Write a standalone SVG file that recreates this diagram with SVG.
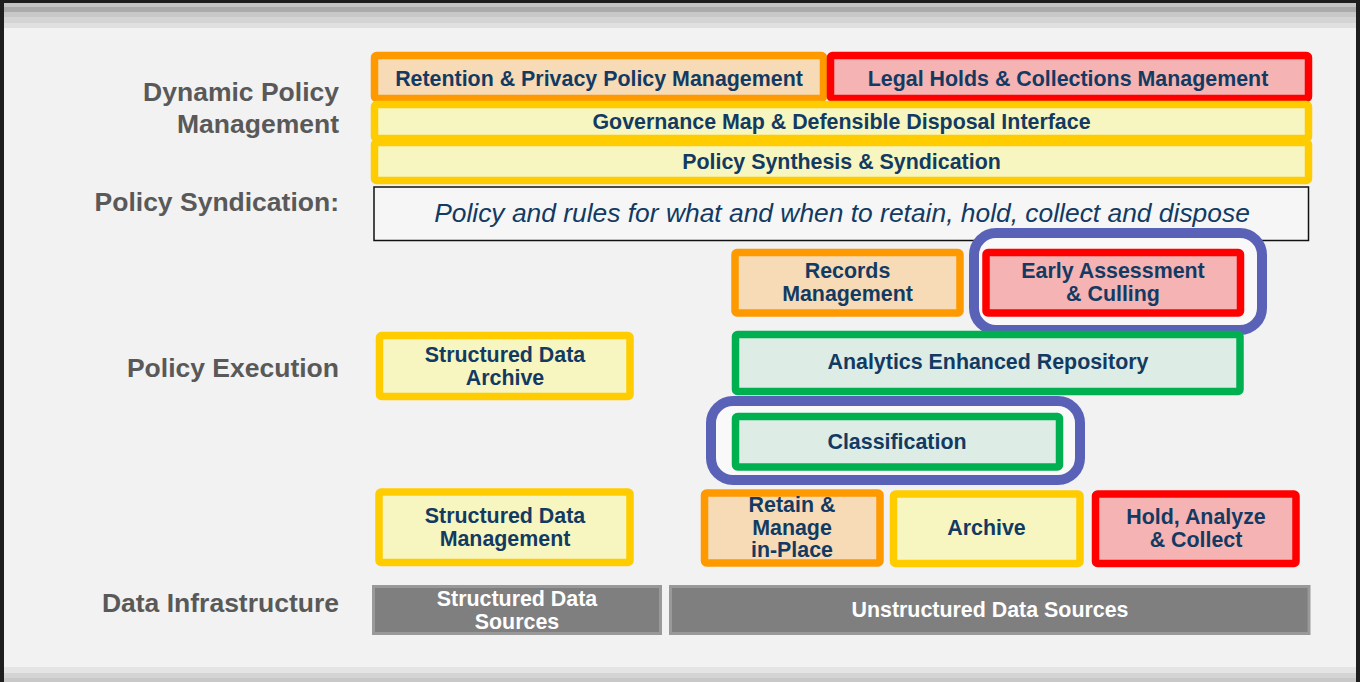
<svg xmlns="http://www.w3.org/2000/svg" width="1360" height="682" viewBox="0 0 1360 682">
<style>
.lbl{font-family:"Liberation Sans",Arial,sans-serif;font-weight:bold;font-size:26.5px;fill:#595959;text-anchor:end}
.t{font-family:"Liberation Sans",Arial,sans-serif;font-weight:bold;font-size:21.4px;fill:#123a62;text-anchor:middle}
.tw{font-family:"Liberation Sans",Arial,sans-serif;font-weight:bold;font-size:21.4px;fill:#ffffff;text-anchor:middle}
.it{font-family:"Liberation Sans",Arial,sans-serif;font-style:italic;font-size:26.4px;fill:#123a62;text-anchor:middle}
.or{fill:#f6dbb6;stroke:#ff9900;stroke-width:7.5}
.rd{fill:#f5b3b3;stroke:#ff0000;stroke-width:7.5}
.ye{fill:#f7f6c0;stroke:#ffcc00;stroke-width:7.5}
.gr{fill:#ddece5;stroke:#00b050;stroke-width:7.5}
.bl{fill:#f9f9f9;stroke:#5a62b8;stroke-width:10}
.gy{fill:#7f7f7f;stroke:#999999;stroke-width:3}
</style>
<rect x="0" y="0" width="1360" height="682" fill="#1e1e1e"/>
<rect x="4" y="3" width="1352" height="679" fill="#f2f2f2"/>
<rect x="4" y="3" width="1352" height="4" fill="#c4c4c4"/>
<rect x="4" y="7" width="1352" height="5" fill="#ababab"/>
<rect x="4" y="12" width="1352" height="5" fill="#c8c8c8"/>
<rect x="4" y="17" width="1352" height="6" fill="#d4d4d4"/>
<rect x="4" y="23" width="1352" height="5" fill="#e0e0e0"/>
<rect x="4" y="667" width="1352" height="6" fill="#e4e4e4"/>
<rect x="4" y="673" width="1352" height="5" fill="#d4d4d4"/>
<rect x="4" y="678" width="1352" height="4" fill="#c8c8c8"/>

<g id="labels">
<text class="lbl" x="339" y="101">Dynamic Policy</text>
<text class="lbl" x="339" y="133">Management</text>
<text class="lbl" x="339" y="211">Policy Syndication:</text>
<text class="lbl" x="339" y="377">Policy Execution</text>
<text class="lbl" x="339" y="612">Data Infrastructure</text>
</g>

<g id="retention"><rect class="or" x="374.5" y="55.5" width="449" height="43" rx="2"/><text class="t" x="599" y="85.5">Retention &amp; Privacy Policy Management</text></g>
<g id="legal"><rect class="rd" x="830.5" y="55.5" width="478" height="43" rx="2"/><text class="t" x="1068" y="85.5">Legal Holds &amp; Collections Management</text></g>
<g id="governance"><rect class="ye" x="374.5" y="104.5" width="934" height="34" rx="2"/><text class="t" x="841.5" y="129">Governance Map &amp; Defensible Disposal Interface</text></g>
<g id="synthesis"><rect class="ye" x="374.5" y="142.5" width="934" height="38" rx="2"/><text class="t" x="841.5" y="168.5">Policy Synthesis &amp; Syndication</text></g>
<g id="policyrules"><rect x="374" y="187" width="934.5" height="53.5" fill="#f6f6f6" stroke="#111111" stroke-width="1.5"/><text class="it" x="842" y="222">Policy and rules for what and when to retain, hold, collect and dispose</text></g>

<g id="records"><rect class="or" x="735" y="252.5" width="225" height="60.5" rx="2"/><text class="t" x="847.5" y="278">Records</text><text class="t" x="847.5" y="301">Management</text></g>
<g id="early"><rect class="bl" x="974" y="233" width="288" height="97" rx="22"/><rect class="rd" x="986" y="252.5" width="254.5" height="60.5" rx="2"/><text class="t" x="1113" y="278">Early Assessment</text><text class="t" x="1113" y="301">&amp; Culling</text></g>
<g id="sda"><rect class="ye" x="379.5" y="335.5" width="250.5" height="61" rx="2"/><text class="t" x="505" y="362">Structured Data</text><text class="t" x="505" y="385">Archive</text></g>
<g id="aer"><rect class="gr" x="735.5" y="334.5" width="504.5" height="57" rx="2"/><text class="t" x="988" y="369">Analytics Enhanced Repository</text></g>
<g id="classification"><rect class="bl" x="711" y="401" width="369" height="79" rx="22"/><rect class="gr" x="735.5" y="416.5" width="324" height="50.5" rx="2"/><text class="t" x="897" y="448.5">Classification</text></g>

<g id="sdm"><rect class="ye" x="379" y="492" width="251" height="70.5" rx="2"/><text class="t" x="505" y="523">Structured Data</text><text class="t" x="505" y="546">Management</text></g>
<g id="retain"><rect class="or" x="704.5" y="493" width="175.5" height="70" rx="2"/><text class="t" x="792" y="512">Retain &amp;</text><text class="t" x="792" y="534.5">Manage</text><text class="t" x="792" y="557">in-Place</text></g>
<g id="archive"><rect class="ye" x="893.5" y="494" width="186.5" height="69.5" rx="2"/><text class="t" x="986.5" y="535">Archive</text></g>
<g id="hold"><rect class="rd" x="1095.5" y="494" width="200.5" height="69.5" rx="2"/><text class="t" x="1196" y="523.5">Hold, Analyze</text><text class="t" x="1196" y="546.5">&amp; Collect</text></g>

<g id="sds"><rect class="gy" x="373.5" y="586.5" width="287" height="47"/><text class="tw" x="517" y="606">Structured Data</text><text class="tw" x="517" y="628.5">Sources</text></g>
<g id="uds"><rect class="gy" x="670.5" y="586.5" width="638.5" height="47"/><text class="tw" x="990" y="616.5">Unstructured Data Sources</text></g>
<g id="connectors"></g>
</svg>
